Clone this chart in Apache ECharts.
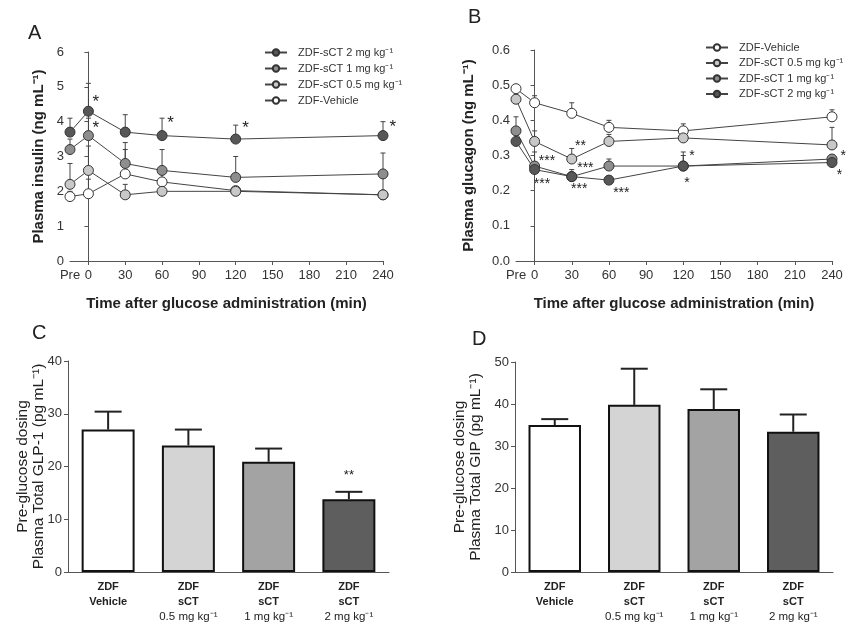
<!DOCTYPE html>
<html><head><meta charset="utf-8">
<script src="https://cdn.jsdelivr.net/npm/echarts@6/dist/echarts.min.js"></script>
<style>html,body{margin:0;padding:0;background:#fff}#c{width:850px;height:625px}</style>
</head><body><div id="c"></div>
<script>
// ---- data ----
const timePoints = [-15, 0, 30, 60, 120, 240];   // -15 plotted as "Pre"
const timeTicks = [0, 30, 60, 90, 120, 150, 180, 210, 240];
const timeLabels = [-15, 0, 30, 60, 90, 120, 150, 180, 210, 240];

const nameVeh = 'ZDF-Vehicle';
const name05 = 'ZDF-sCT 0.5 mg kg\u207B\u00B9';
const name1 = 'ZDF-sCT 1 mg kg\u207B\u00B9';
const name2 = 'ZDF-sCT 2 mg kg\u207B\u00B9';

const insulin2 = [3.7, 4.3, 3.7, 3.6, 3.5, 3.6];
const insulin2Up = [4.1, 5.1, 4.2, 4.1, 3.9, 4.0];
const insulin1 = [3.2, 3.6, 2.8, 2.6, 2.4, 2.5];
const insulin1Up = [3.5, 4.1, 3.4, 3.2, 3.0, 3.1];
const insulin05 = [2.2, 2.6, 1.9, 2.0, 2.0, 1.9];
const insulin05Up = [2.8, 3.3, 2.2, 2.3, 2.1, 2.0];
const insulinVeh = [1.85, 1.93, 2.5, 2.27, 2.02, 1.9];
const insulinVehUp = [2.0, 2.35, 3.2, 2.5, 2.1, 2.4];

const glucagonVeh = [0.49, 0.45, 0.42, 0.38, 0.37, 0.41];
const glucagonVehUp = [0.50, 0.47, 0.45, 0.40, 0.39, 0.43];
const glucagon05 = [0.46, 0.34, 0.29, 0.34, 0.35, 0.33];
const glucagon05Up = [0.47, 0.37, 0.32, 0.36, 0.36, 0.38];
const glucagon1 = [0.37, 0.27, 0.24, 0.27, 0.27, 0.29];
const glucagon1Up = [0.41, 0.31, 0.26, 0.29, 0.31, 0.30];
const glucagon2 = [0.34, 0.26, 0.24, 0.23, 0.27, 0.28];
const glucagon2Up = [0.36, 0.28, 0.25, 0.24, 0.30, 0.29];

const starsA = [[6, 4.55, '*'], [6, 3.8, '*'], [67, 3.95, '*'], [128, 3.82, '*'], [248, 3.85, '*']];
const starsB = [[10, 0.285, '***'], [6, 0.218, '***'], [37, 0.327, '**'], [41, 0.263, '***'],
                [36, 0.203, '***'], [70, 0.192, '***'], [127, 0.297, '*'], [123, 0.222, '*'],
                [249, 0.299, '*'], [246, 0.243, '*']];

const barCats = ['ZDF\nVehicle', 'ZDF\nsCT\n0.5 mg kg\u207B\u00B9', 'ZDF\nsCT\n1 mg kg\u207B\u00B9', 'ZDF\nsCT\n2 mg kg\u207B\u00B9'];
const glp1 = [27.0, 24.0, 20.9, 13.8];
const glp1Up = [30.4, 27.0, 23.4, 15.2];
const starsC = [[3, 18.3, '**']];
const gip = [35.0, 39.8, 38.8, 33.4];
const gipUp = [36.4, 48.4, 43.5, 37.5];

const barColors = ['#ffffff', '#d4d4d4', '#a3a3a3', '#5e5e5e'];
const markerColors = {veh: '#ffffff', c05: '#c8c8c8', c1: '#8e8e8e', c2: '#575757'};

// ---- helpers ----
const FONT = 'Liberation Sans, Arial, sans-serif';
const axisCol = '#555';
function errRender(capHalf, lw, col) {
  return function (params, api) {
    const p0 = api.coord([api.value(0), api.value(1)]);
    const p1 = api.coord([api.value(0), api.value(2)]);
    return {type: 'group', children: [
      {type: 'line', shape: {x1: p0[0], y1: p0[1], x2: p1[0], y2: p1[1]}, style: {stroke: col, lineWidth: lw}},
      {type: 'line', shape: {x1: p1[0] - capHalf, y1: p1[1], x2: p1[0] + capHalf, y2: p1[1]}, style: {stroke: col, lineWidth: lw}}
    ]};
  };
}
function starRender(arr, size) {
  return function (params, api) {
    const p = api.coord([api.value(0), api.value(1)]);
    return {type: 'text', x: p[0], y: p[1], style: {text: arr[params.dataIndex][2], fill: '#222', fontSize: size, fontFamily: FONT, align: 'center', verticalAlign: 'middle'}};
  };
}
function zip(xs, a, b) { return xs.map((x, i) => b ? [x, a[i], b[i]] : [x, a[i]]); }

function lineSeries(name, vals, color, gi) {
  return {type: 'line', name: name, xAxisIndex: gi, yAxisIndex: gi, data: zip(timePoints, vals),
    symbol: 'circle', symbolSize: 10, z: 3,
    lineStyle: {color: '#444', width: 1},
    itemStyle: {color: color, borderColor: '#333', borderWidth: 1}};
}
function errSeries(vals, ups, gi) {
  return {type: 'custom', xAxisIndex: gi, yAxisIndex: gi, z: 2, silent: true,
    renderItem: errRender(2.5, 1, '#444'), data: zip(timePoints, vals, ups)};
}
function timeXAxis(gi) {
  return {type: 'value', gridIndex: gi, min: -15, max: 240,
    axisLine: {lineStyle: {color: axisCol}},
    axisTick: {customValues: timeTicks, length: 4, lineStyle: {color: axisCol}},
    axisLabel: {customValues: timeLabels, color: '#333', fontSize: 13, fontFamily: FONT, margin: 8,
      formatter: v => v === -15 ? 'Pre' : String(v)},
    splitLine: {show: false},
    name: 'Time after glucose administration (min)', nameLocation: 'middle', nameGap: 35,
    nameTextStyle: {fontSize: 15, fontWeight: 'bold', color: '#222', fontFamily: FONT}};
}
function valYAxis(gi, max, interval, name, fmt, gap, nameStyle) {
  return {type: 'value', gridIndex: gi, min: 0, max: max, interval: interval,
    axisLine: {show: true, lineStyle: {color: axisCol}},
    axisTick: {show: true, length: 4, lineStyle: {color: axisCol}},
    axisLabel: {color: '#333', fontSize: 13, fontFamily: FONT, margin: 6, formatter: fmt},
    splitLine: {show: false},
    name: name, nameLocation: 'middle', nameGap: gap, nameMoveOverlap: false, nameTextStyle: nameStyle};
}
function catXAxis(gi) {
  return {type: 'category', gridIndex: gi, data: barCats,
    axisLine: {lineStyle: {color: axisCol}}, axisTick: {show: false},
    axisLabel: {interval: 0, margin: 7, lineHeight: 15, fontFamily: FONT, color: '#222',
      formatter: v => v.split('\n').map((s, i) => i < 2 ? '{b|' + s + '}' : '{n|' + s + '}').join('\n'),
      rich: {b: {fontSize: 11, fontWeight: 'bold', fontFamily: FONT, color: '#222', lineHeight: 15},
             n: {fontSize: 11.5, fontFamily: FONT, color: '#222', lineHeight: 15}}}};
}
function barSeries(vals, gi) {
  return {type: 'bar', xAxisIndex: gi, yAxisIndex: gi, barWidth: '66%', z: 2,
    data: vals.map((v, i) => ({value: v, itemStyle: {color: barColors[i], borderColor: '#111', borderWidth: 2}}))};
}
function barErr(vals, ups, gi) {
  return {type: 'custom', xAxisIndex: gi, yAxisIndex: gi, z: 1, silent: true,
    renderItem: errRender(13.5, 2, '#222'), data: vals.map((v, i) => [i, v, ups[i]])};
}

const boldTitle = {fontSize: 15, fontWeight: 'bold', color: '#222', fontFamily: FONT};
const twoLineTitle = {fontSize: 15.5, color: '#222', fontFamily: FONT, lineHeight: 16.5};
const legendText = {fontSize: 11, color: '#333', fontFamily: FONT, padding: [0, 0, 0, 6]};

const option = {
  animation: false,
  backgroundColor: '#fff',
  title: [
    {text: 'A', left: 23, top: 18, textStyle: {fontSize: 20, fontWeight: 'normal', color: '#222', fontFamily: FONT}},
    {text: 'B', left: 463, top: 2, textStyle: {fontSize: 20, fontWeight: 'normal', color: '#222', fontFamily: FONT}},
    {text: 'C', left: 27, top: 318, textStyle: {fontSize: 20, fontWeight: 'normal', color: '#222', fontFamily: FONT}},
    {text: 'D', left: 467, top: 324, textStyle: {fontSize: 20, fontWeight: 'normal', color: '#222', fontFamily: FONT}}
  ],
  legend: [
    {left: 259, top: 42, orient: 'vertical', itemWidth: 22, itemHeight: 8, itemGap: 5,
      data: [name2, name1, name05, nameVeh], textStyle: legendText},
    {left: 700, top: 37, orient: 'vertical', itemWidth: 22, itemHeight: 8, itemGap: 4.5,
      data: [nameVeh, name05, name1, name2], textStyle: legendText}
  ],
  grid: [
    {left: 70, top: 52, width: 313, height: 209},
    {left: 516, top: 50, width: 316, height: 211},
    {left: 68, top: 361, width: 321, height: 211},
    {left: 515, top: 362, width: 318, height: 210}
  ],
  xAxis: [timeXAxis(0), timeXAxis(1), catXAxis(2), catXAxis(3)],
  yAxis: [
    valYAxis(0, 6, 1, 'Plasma insulin (ng mL\u207B\u00B9)', v => String(v), 24, boldTitle),
    valYAxis(1, 0.6, 0.1, 'Plasma glucagon (ng mL\u207B\u00B9)', v => v.toFixed(1), 40, boldTitle),
    valYAxis(2, 40, 10, 'Pre-glucose dosing\nPlasma Total GLP-1 (pg mL\u207B\u00B9)', v => String(v), 21, twoLineTitle),
    valYAxis(3, 50, 10, 'Pre-glucose dosing\nPlasma Total GIP (pg mL\u207B\u00B9)', v => String(v), 31, twoLineTitle)
  ],
  series: [
    errSeries(insulinVeh, insulinVehUp, 0), errSeries(insulin05, insulin05Up, 0),
    errSeries(insulin1, insulin1Up, 0), errSeries(insulin2, insulin2Up, 0),
    lineSeries(nameVeh, insulinVeh, markerColors.veh, 0),
    lineSeries(name05, insulin05, markerColors.c05, 0),
    lineSeries(name1, insulin1, markerColors.c1, 0),
    lineSeries(name2, insulin2, markerColors.c2, 0),
    {type: 'custom', xAxisIndex: 0, yAxisIndex: 0, z: 4, silent: true, renderItem: starRender(starsA, 17), data: starsA.map(s => [s[0], s[1]])},

    errSeries(glucagonVeh, glucagonVehUp, 1), errSeries(glucagon05, glucagon05Up, 1),
    errSeries(glucagon1, glucagon1Up, 1), errSeries(glucagon2, glucagon2Up, 1),
    lineSeries(nameVeh, glucagonVeh, markerColors.veh, 1),
    lineSeries(name05, glucagon05, markerColors.c05, 1),
    lineSeries(name1, glucagon1, markerColors.c1, 1),
    lineSeries(name2, glucagon2, markerColors.c2, 1),
    {type: 'custom', xAxisIndex: 1, yAxisIndex: 1, z: 4, silent: true, renderItem: starRender(starsB, 14), data: starsB.map(s => [s[0], s[1]])},

    barErr(glp1, glp1Up, 2), barSeries(glp1, 2),
    {type: 'custom', xAxisIndex: 2, yAxisIndex: 2, z: 4, silent: true, renderItem: starRender(starsC, 13), data: starsC.map(s => [s[0], s[1]])},
    barErr(gip, gipUp, 3), barSeries(gip, 3)
  ]
};
const chart = echarts.init(document.getElementById('c'), null, {renderer: 'canvas'});
chart.setOption(option);
</script></body></html>
